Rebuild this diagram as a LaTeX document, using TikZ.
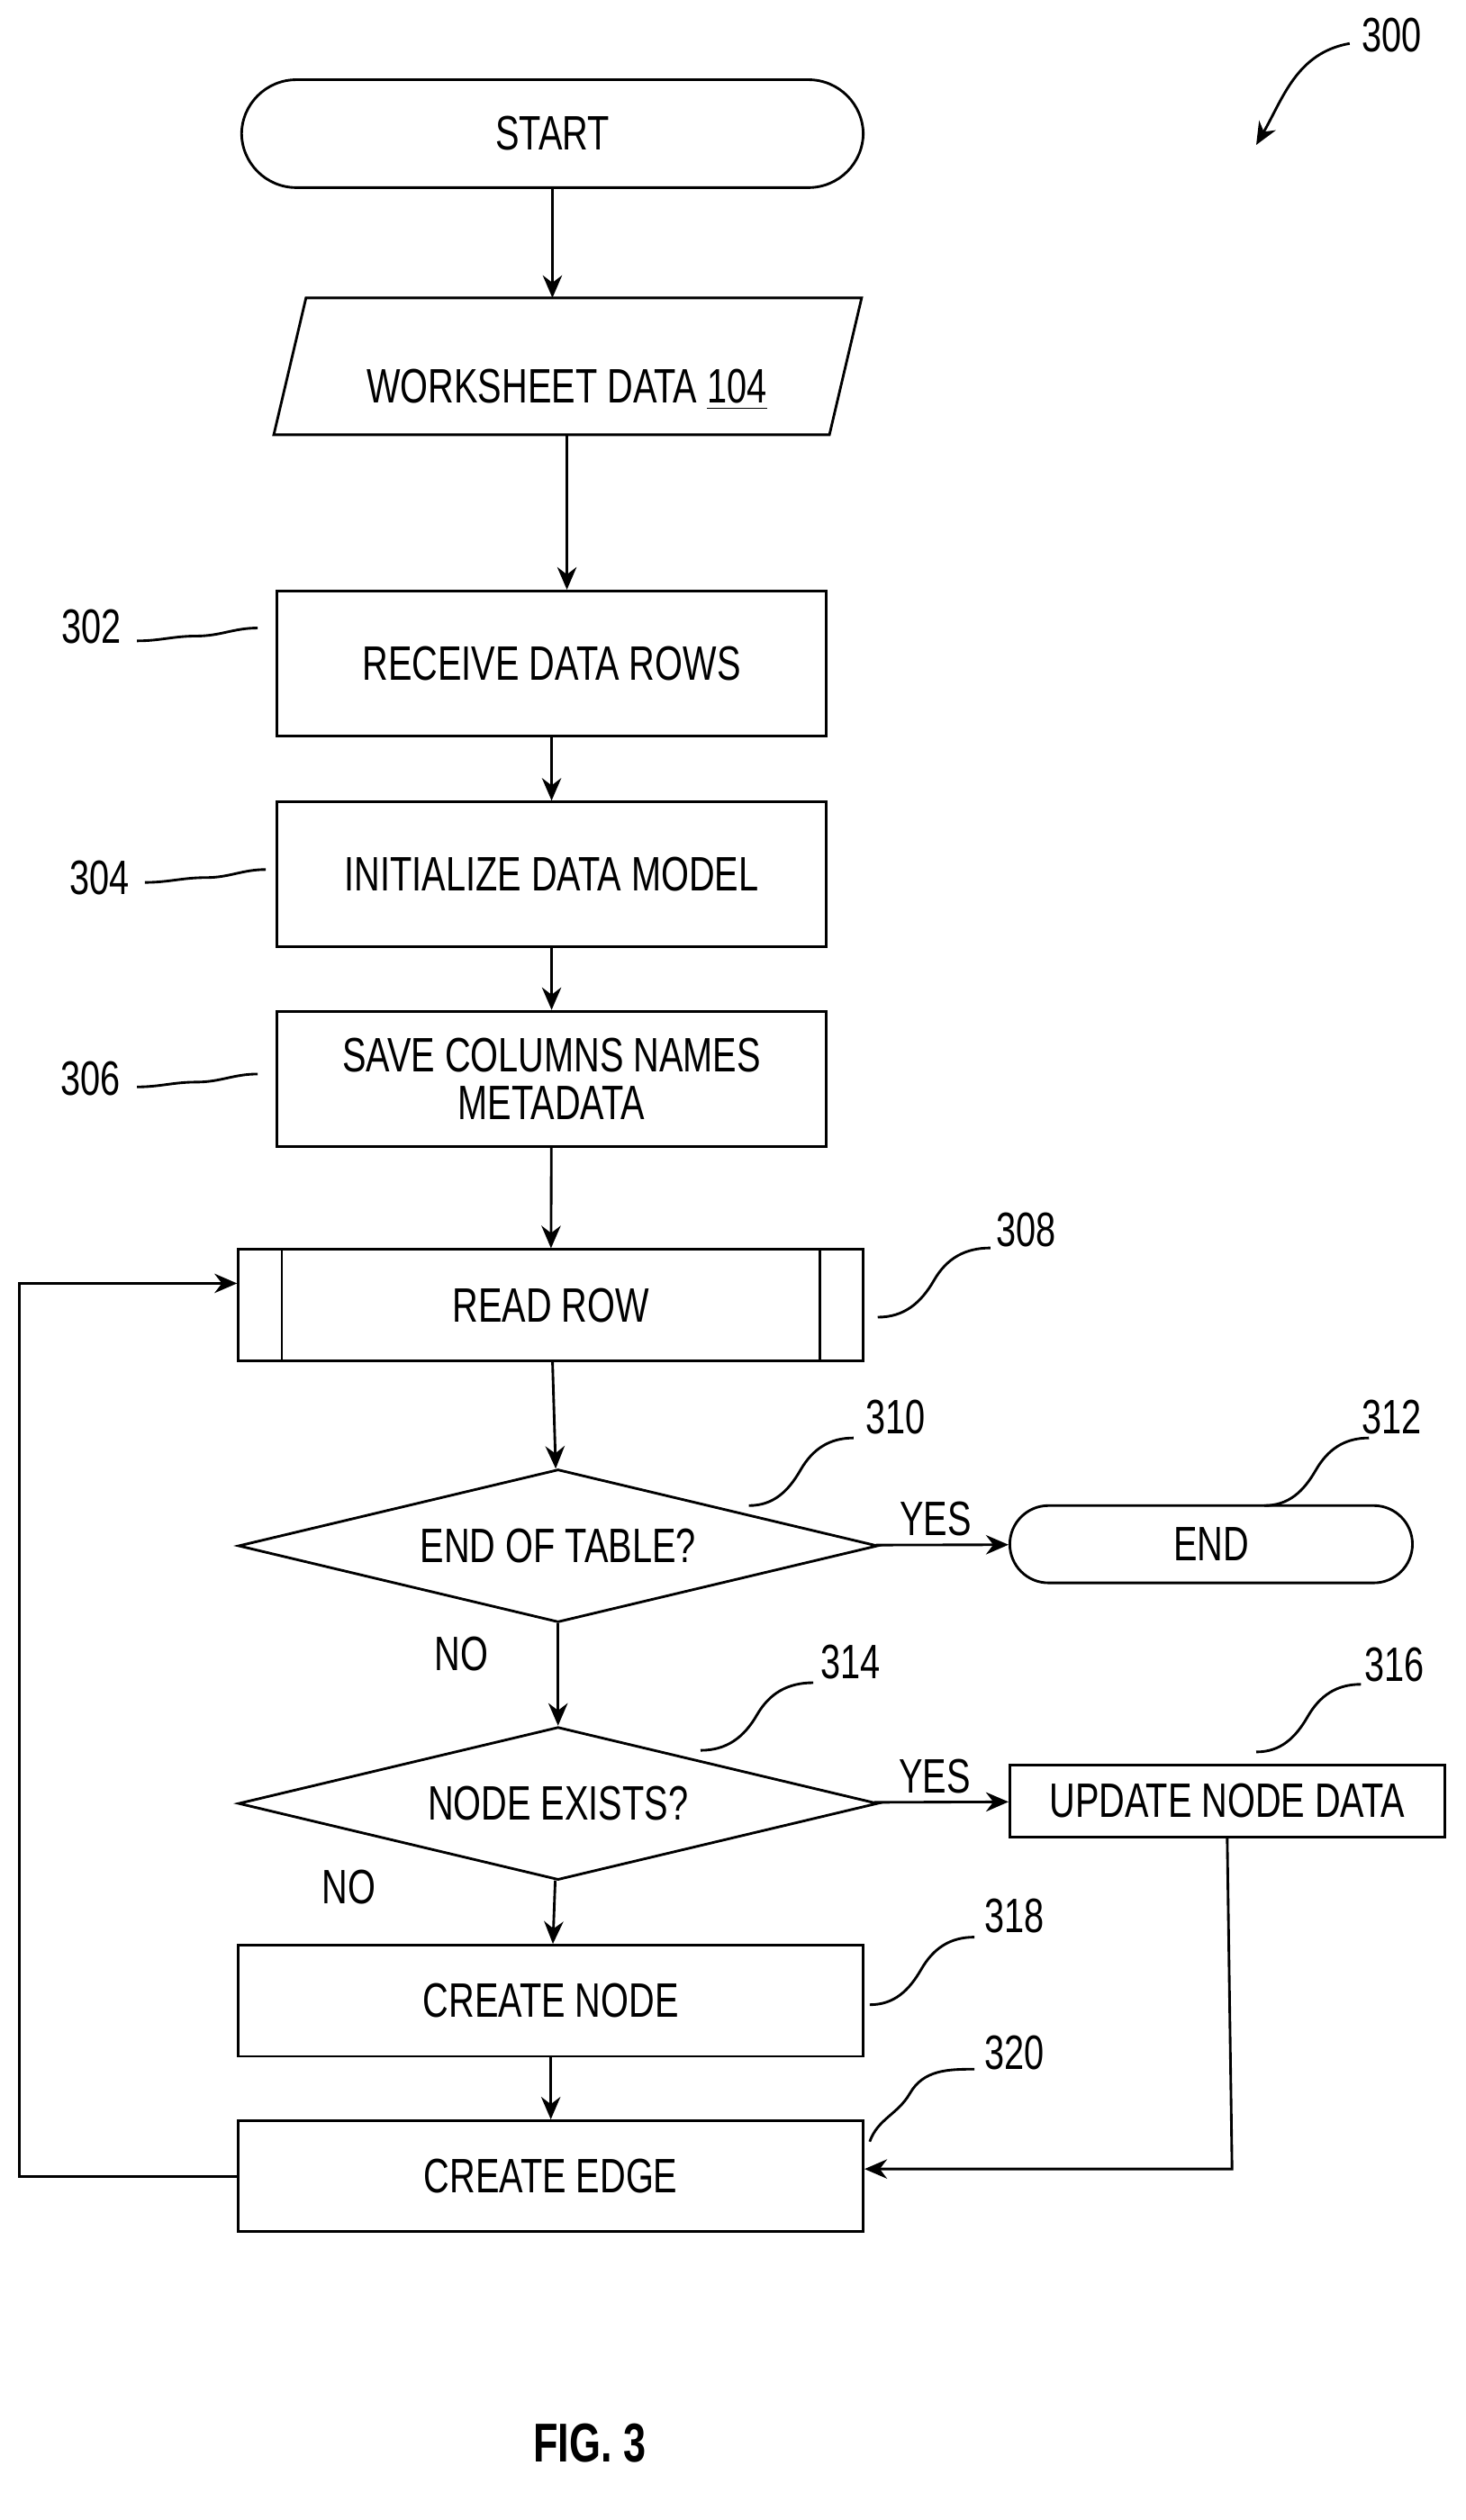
\documentclass[tikz,border=0pt]{standalone}
\usepackage{fontspec}
\setmainfont{Liberation Sans}[FakeStretch=0.74]
\usetikzlibrary{shapes.geometric,arrows.meta}
\begin{document}
\begin{tikzpicture}[x=0.5pt,y=-0.5pt,
  every node/.style={font=\fontsize{15}{17}\selectfont},
  box/.style={draw,line width=0.8pt,minimum width=170.5pt,inner sep=0pt,align=center},
  wbox/.style={draw,line width=0.8pt,minimum width=194pt,minimum height=34.5pt,inner sep=0pt},
  dia/.style={draw,line width=0.8pt,diamond,aspect=4.18,minimum width=198.5pt,minimum height=47.5pt,inner sep=0pt},
  term/.style={draw,line width=0.8pt,rounded corners=17pt,inner sep=0pt},
  arr/.style={draw,line width=0.8pt,-{Stealth[length=7pt,width=6pt]}},
  sq/.style={draw,line width=0.8pt},
  lbl/.style={font=\fontsize{15}{17}\selectfont}]
\useasboundingbox (0,0) rectangle (910,1565);
\node[term,minimum width=193pt,minimum height=33.5pt] (start) at (343,83) {START};
\coordinate (wtop) at (352,185); \coordinate (wbot) at (352,270);
\draw[line width=0.8pt] (190,185) -- (535,185) -- (515,270) -- (170,270) -- cycle;
\node (ws) at (352,242) {WORKSHEET DATA \underline{104}};
\node[box,minimum height=45pt] (r302) at (342.5,412) {RECEIVE DATA ROWS};
\node[box,minimum height=45pt] (r304) at (342.5,543) {INITIALIZE DATA MODEL};
\node[box,minimum height=42pt] (r306) at (342.5,670) {SAVE COLUMNS NAMES\\[-2pt]METADATA};
\node[wbox] (r308) at (342,810.5) {READ ROW};
\draw[line width=0.8pt] (175,776) -- (175,845) (509,776) -- (509,845);
\node[dia] (d310) at (346.5,960) {END OF TABLE?};
\node[term,minimum width=125pt,minimum height=24pt,rounded corners=12pt] (end) at (752,959) {END};
\node[dia] (d314) at (346.5,1120) {NODE EXISTS?};
\node[draw,line width=0.8pt,minimum width=135pt,minimum height=22.5pt,inner sep=0pt] (r316) at (762,1118.5) {UPDATE NODE DATA};
\node[wbox] (r318) at (342,1242.5) {CREATE NODE};
\node[wbox] (r320) at (342,1351.5) {CREATE EDGE};

\draw[arr] (start) -- (343,185);
\draw[arr] (352,270) -- (r302.north -| 352,0);
\draw[arr] (r302) -- (r304);
\draw[arr] (r304) -- (r306);
\draw[arr] (r306) -- (r308);
\draw[arr] (r308) -- (d310);
\draw[arr] (d310) -- (end) node[pos=0.45,above=-1pt] {YES};
\draw[arr] (d310) -- (d314) node[pos=0.3,left=18pt] {NO};
\draw[arr] (d314) -- (r316) node[pos=0.45,above=-1pt] {YES};
\draw[arr] (d314) -- (r318) node[pos=0.1,left=52pt] {NO};
\draw[arr] (r318) -- (r320);
\draw[arr] (r320.west) -- (12,1351.5) -- (12,797) -- (r308.west |- 0,797);
\draw[arr] (r316.south) -- (765,1347) -- (r320.east |- 0,1347);

\node[lbl] (n302) at (57,389) {302};
\draw[sq] (85,398) to[out=0,in=180] (122,395) to[out=0,in=180] (160,390);
\node[lbl] (n304) at (62,545) {304};
\draw[sq] (90,548) to[out=0,in=180] (128,545) to[out=0,in=180] (165,540);
\node[lbl] (n306) at (56,670) {306};
\draw[sq] (85,675) to[out=0,in=180] (122,672) to[out=0,in=180] (160,667);
\node[lbl] (n308) at (637,764) {308};
\draw[sq] (545,818) to[out=0,in=240] (580,795) to[out=60,in=180] (615,775);
\node[lbl] (n310) at (556,880) {310};
\draw[sq] (465,935) to[out=0,in=240] (497,913) to[out=60,in=180] (530,893);
\node[lbl] (n312) at (864,880) {312};
\draw[sq] (785,935) to[out=0,in=240] (817,913) to[out=60,in=180] (850,893);
\node[lbl] (n314) at (528,1032) {314};
\draw[sq] (435,1087) to[out=0,in=240] (470,1065) to[out=60,in=180] (505,1045);
\node[lbl] (n316) at (866,1034) {316};
\draw[sq] (780,1088) to[out=0,in=240] (812,1066) to[out=60,in=180] (845,1046);
\node[lbl] (n318) at (630,1190) {318};
\draw[sq] (540,1245) to[out=0,in=240] (572,1223) to[out=60,in=180] (605,1203);
\node[lbl] (n320) at (630,1275) {320};
\draw[sq] (540,1330) to[out=70,in=240] (565,1300) to[out=60,in=180] (605,1285);
\node[lbl] (n300) at (864,22) {300};
\coordinate (a300) at (780,90);
\draw[arr] (838,27) to[out=190,in=60] (a300);
\node[font=\bfseries\fontsize{17}{19}\selectfont] (fig) at (366,1517) {FIG. 3};
\end{tikzpicture}
\end{document}
